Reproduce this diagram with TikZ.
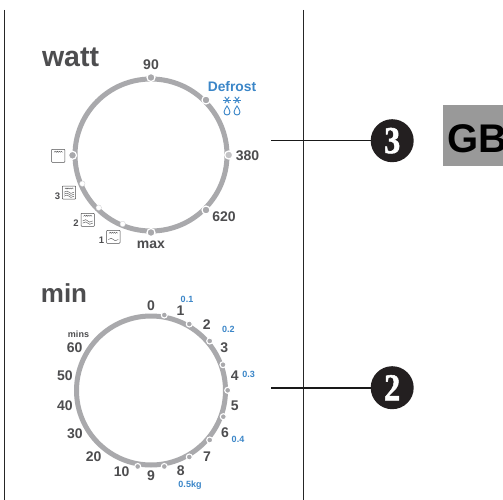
\documentclass[tikz,border=0pt]{standalone}
\usepackage{fontspec}
\setmainfont{Liberation Sans}
\newfontfamily\numfont[FakeBold=1.5]{Liberation Serif}
\definecolor{ink}{HTML}{4D4D4F}
\definecolor{ring}{HTML}{A9A9AC}
\definecolor{blu}{HTML}{3B86C8}
\definecolor{gbgrey}{HTML}{999999}
\definecolor{bub}{HTML}{231F20}
\tikzset{
  every node/.style={inner sep=0pt,outer sep=0pt},
  dial/.style={draw=ring,line width=5pt},
  dot/.style={circle,fill=ring,draw=white,line width=1.2pt,minimum size=8pt},
  smalldot/.style={circle,fill=ring,draw=white,line width=1.1pt,minimum size=6pt},
  paledot/.style={circle,fill=white,draw=ring!60,line width=.3pt,minimum size=5.5pt},
  title/.style={text=ink,font=\fontsize{26}{26}\selectfont\bfseries},
  num/.style={text=ink,font=\fontsize{14}{14}\selectfont\bfseries},
  lab/.style={text=ink,font=\fontsize{9}{9}\selectfont\bfseries},
  blue9/.style={text=blu,font=\fontsize{9}{9}\selectfont\bfseries},
  rule/.style={draw=black!85,line width=.8pt},
  leader/.style={draw=black!90,line width=1.3pt},
  bubble/.style={circle,fill=bub,minimum size=43pt,text=white,font=\fontsize{38}{38}\selectfont\numfont\bfseries},
  oven/.style={draw=ink,line width=.5pt,rounded corners=.8pt},
  wav/.style={draw=ink,line width=.4pt},
  ice/.style={draw=blu,line width=.9pt},
}
\newcommand{\topwave}[2]{% x,y of icon top-left
  \draw[wav] (#1+2.5,#2+3) .. controls (#1+3.5,#2+1.6) and (#1+4,#2+1.6) .. (#1+4.7,#2+3) .. controls (#1+5.5,#2+1.6) and (#1+6,#2+1.6) .. (#1+6.8,#2+3) .. controls (#1+7.6,#2+1.6) and (#1+8.1,#2+1.6) .. (#1+8.9,#2+3) .. controls (#1+9.7,#2+1.6) and (#1+10.2,#2+1.6) .. (#1+11,#2+3);
}
\newcommand{\lowwave}[2]{% x,y start
  \draw[wav] (#1,#2) .. controls (#1+2.5,#2-1.6) and (#1+4,#2-1.6) .. (#1+5,#2) .. controls (#1+6,#2+1.6) and (#1+7.5,#2+1.6) .. (#1+10,#2);
}
\newcommand{\ovenbox}[2]{%
  \draw[oven] (#1,#2) rectangle (#1+13.4,#2+13);
  \topwave{#1}{#2}
}
\newcommand{\flake}[2]{%
  \draw[ice] (#1-3.6,#2) -- (#1+3.6,#2);
  \draw[ice] (#1-2.2,#2-3.2) -- (#1+2.2,#2+3.2);
  \draw[ice] (#1+2.2,#2-3.2) -- (#1-2.2,#2+3.2);
}
\newcommand{\drop}[2]{%
  \draw[ice] (#1,#2-5) .. controls (#1+1,#2-2.6) and (#1+3,#2-1.6) .. (#1+3,#2+1) .. controls (#1+3,#2+5) and (#1-3,#2+5) .. (#1-3,#2+1) .. controls (#1-3,#2-1.6) and (#1-1,#2-2.6) .. (#1,#2-5) -- cycle;
}
\begin{document}
\begin{tikzpicture}[x=1pt,y=-1pt]
\useasboundingbox (0,0) rectangle (503,500);
\fill[white] (0,0) rectangle (503,500);
\clip (0,0) rectangle (503,500);
% panel rules
\coordinate (ra) at (4.5,10); \coordinate (rb) at (4.5,500);
\coordinate (rc) at (303.5,10); \coordinate (rd) at (303.5,500);
\draw[rule] (ra) -- (rb);
\draw[rule] (rc) -- (rd);
% titles
\node[title,font=\fontsize{28.5}{28}\selectfont\bfseries] (twatt) at (70.5,57) {watt};
\node[title] (tmin) at (64,293) {min};
% upper dial
\coordinate (uc) at (151,155);
\draw[dial] (uc) circle (76);
\node[dot] (u90) at (151,77.5) {};
\node[dot] (udef) at (206,100) {};
\node[dot,fill=ring!70] (u380) at (228.7,155) {};
\node[dot] (u620) at (206,210) {};
\node[dot] (umax) at (151,232.5) {};
\node[dot] (uov) at (72.5,155.3) {};
\node[paledot] (u3) at (82.3,183.7) {};
\node[paledot] (u2) at (98.7,207.7) {};
\node[paledot] (u1) at (122.7,224) {};
\node[num] (l90) at (151,65) {90};
\node[num] (l380) at (247.5,156) {380};
\node[num] (l620) at (224,217) {620};
\node[num] (lmax) at (151,245) {max};
\node[text=blu,font=\fontsize{13.8}{14}\selectfont\bfseries] (ldef) at (232,87) {Defrost};
\flake{227}{100}\flake{237}{100}
\drop{227}{111}\drop{237}{111}
% oven icons
\ovenbox{51.5}{149.3}
\ovenbox{62.3}{186}
\foreach \d in {6.2,8.2,10.2}{\lowwave{64}{186+\d}}
\ovenbox{81}{213.3}
\foreach \d in {7.6,9.8}{\lowwave{82.7}{213.3+\d}}
\ovenbox{106.6}{230.3}
\lowwave{108.3}{239.5}
\node[lab,font=\fontsize{9.5}{9.5}\selectfont\bfseries] (i3) at (57.5,196) {3};
\node[lab,font=\fontsize{9.5}{9.5}\selectfont\bfseries] (i2) at (76,223.5) {2};
\node[lab,font=\fontsize{9.5}{9.5}\selectfont\bfseries] (i1) at (101.5,240) {1};
% lower dial
\coordinate (lc) at (151,390.5);
\draw[dial] (lc) circle (74.5);
\foreach \n/\x/\y in {a/164.3/315,b/189.3/324,c/209.7/341,d/223/364.7,e/227.7/390.3,f/223.3/416.7,g/209.7/440,h/189.3/457,i/164.3/466.5,j/137.7/466.5}
  \node[smalldot] (d\n) at (\x,\y) {};
\foreach \n/\t/\x/\y in {n0/0/151/305.7,n1/1/180.5/311,n2/2/206.7/325,n3/3/224.3/347.3,n4/4/234.7/376,n5/5/234.7/405.3,n6/6/225/432.3,n7/7/207/456.7,n8/8/180.7/471,n9/9/151/476,n10/10/121.7/471.7,n20/20/93.7/456.7,n30/30/75/434,n40/40/65/405.7,n50/50/65/376,n60/60/74.7/347.3}
  \node[num] (\n) at (\x,\y) {\t};
\node[lab] (mins) at (78.5,334.3) {mins};
\foreach \n/\t/\x/\y in {b1/0.1/187/299,b2/0.2/228.3/329,b3/0.3/248.7/374.7,b4/0.4/238/439,b5/0.5kg/190/484.7}
  \node[blue9] (\n) at (\x,\y) {\t};
% callouts
\coordinate (la) at (271,140.5);
\coordinate (lb) at (271,388);
\node[bubble] (c3) at (392.2,140.7) {\scalebox{.85}[1]{3}};
\node[bubble] (c2) at (392.2,387.7) {\scalebox{.85}[1]{2}};
\draw[leader] (la) -- (la-|c3.west);
\draw[leader] (lb) -- (lb-|c2.west);
% GB
\node[fill=gbgrey,anchor=north west,minimum width=61pt,minimum height=60.7pt] (gbbox) at (442.7,105) {};
\node[anchor=west,font=\fontsize{40}{40}\selectfont\bfseries,text=black] (gb) at (447,139) {GB};
\end{tikzpicture}
\end{document}
